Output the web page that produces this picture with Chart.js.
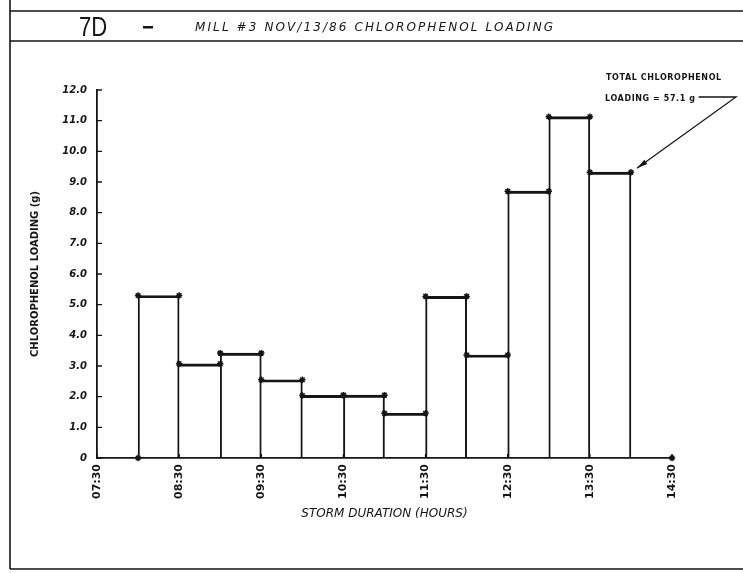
<!DOCTYPE html>
<html>
<head>
<meta charset="utf-8">
<title>Mill #3 chlorophenol loading</title>
<script src="https://cdn.jsdelivr.net/npm/chart.js@4/dist/chart.umd.min.js"></script>
<style>
  html, body { margin: 0; padding: 0; background: #fff; }
  #wrap { width: 743px; height: 573px; position: relative; }
</style>
</head>
<body>
<div id="wrap"><canvas id="c"></canvas></div>
<script>
// Figure heading
const figureId = '7D';
const chartTitle = 'MILL #3 NOV/13/86 CHLOROPHENOL LOADING';

// Half-hour sampling intervals (start time, decimal hours) and loading per interval (g)
const binStartHours = [8.0, 8.5, 9.0, 9.5, 10.0, 10.5, 11.0, 11.5, 12.0, 12.5, 13.0, 13.5];
const binWidthHours = 0.5;
const loadingGrams  = [5.30, 3.07, 3.42, 2.55, 2.04, 2.05, 1.46, 5.27, 3.36, 8.70, 11.13, 9.32];

// Reported total for the storm event (g)
const totalNote = ['TOTAL CHLOROPHENOL', 'LOADING = 57.1 g'];

// Axis range and tick labels
const xRangeHours = [7.5, 14.5];
const xTickLabels = ['07:30', '08:30', '09:30', '10:30', '11:30', '12:30', '13:30', '14:30'];
const yTickLabels = ['0', '1.0', '2.0', '3.0', '4.0', '5.0', '6.0', '7.0', '8.0', '9.0', '10.0', '11.0', '12.0'];

const INK = '#151515';
const lastIndex = loadingGrams.length - 1;

// Bars centred on each interval
const barPoints = binStartHours.map((s, i) => ({ x: s + binWidthHours / 2, y: loadingGrams[i] }));

// Plotter marks at each corner of the step outline, plus start and end of the trace on the axis
const cornerPoints = [{ x: binStartHours[0], y: 0 }];
binStartHours.forEach((s, i) => {
  cornerPoints.push({ x: s, y: loadingGrams[i] });
  cornerPoints.push({ x: s + binWidthHours, y: loadingGrams[i] });
});
cornerPoints.push({ x: xRangeHours[1], y: 0 });

// Each shared edge is stroked once, by the taller of the two neighbouring bars
const EDGE = 1.3;
function barBorder(ctx) {
  const i = ctx.dataIndex;
  if (i === undefined) return EDGE;
  const v = loadingGrams[i];
  const left = (i === 0 || v >= loadingGrams[i - 1]) ? EDGE : 0;
  const right = (i === lastIndex || v > loadingGrams[i + 1]) ? EDGE : 0;
  return { top: 2.2, left, right, bottom: 0 };
}

// Page frame, heading band, inward ticks and the total annotation
const sheetPlugin = {
  id: 'sheet',
  beforeDraw(chart) {
    const ctx = chart.ctx;
    ctx.save();
    ctx.fillStyle = '#fff';
    ctx.fillRect(0, 0, chart.width, chart.height);
    ctx.strokeStyle = INK;
    ctx.lineWidth = 1.6;
    ctx.beginPath();
    ctx.moveTo(10, 0); ctx.lineTo(10, 569);
    ctx.moveTo(10, 11); ctx.lineTo(743, 11);
    ctx.moveTo(10, 41); ctx.lineTo(743, 41);
    ctx.moveTo(10, 569); ctx.lineTo(743, 569);
    ctx.stroke();

    // figure number and dash
    ctx.fillStyle = INK;
    ctx.save();
    ctx.translate(79, 36);
    ctx.scale(0.82, 1);
    ctx.font = '27px "Liberation Sans", Arial, sans-serif';
    ctx.textBaseline = 'alphabetic';
    ctx.fillText(figureId, 0, 0);
    ctx.restore();
    ctx.fillRect(143, 26, 10, 2.5);

    // heading text
    ctx.font = 'italic 12px "DejaVu Sans", sans-serif';
    ctx.letterSpacing = '2.1px';
    ctx.textBaseline = 'alphabetic';
    ctx.fillText(chartTitle, 195, 31);
    ctx.restore();
  },
  afterDraw(chart) {
    const ctx = chart.ctx;
    const xs = chart.scales.x, ys = chart.scales.y;
    ctx.save();
    ctx.strokeStyle = INK;
    ctx.fillStyle = INK;

    // inward tick marks
    ctx.lineWidth = 1.4;
    ctx.beginPath();
    ys.ticks.forEach(t => {
      const y = ys.getPixelForValue(t.value);
      ctx.moveTo(xs.left, y); ctx.lineTo(xs.left + 5, y);
    });
    xs.ticks.forEach(t => {
      const x = xs.getPixelForValue(t.value);
      ctx.moveTo(x, ys.bottom); ctx.lineTo(x, ys.bottom - 4);
    });
    ctx.stroke();

    // total loading note with leader arrow
    ctx.font = 'bold 8px "DejaVu Sans", sans-serif';
    ctx.letterSpacing = '0.6px';
    ctx.textBaseline = 'alphabetic';
    ctx.fillText(totalNote[0], 606, 80);
    ctx.fillText(totalNote[1], 605, 101);
    const noteEnd = 605 + ctx.measureText(totalNote[1]).width + 3;

    const tipX = xs.getPixelForValue(binStartHours[lastIndex] + binWidthHours) + 6;
    const tipY = ys.getPixelForValue(loadingGrams[lastIndex]) - 4;
    const elbowX = 736, elbowY = 97;
    ctx.lineWidth = 1.3;
    ctx.beginPath();
    ctx.moveTo(noteEnd, elbowY);
    ctx.lineTo(elbowX, elbowY);
    ctx.lineTo(tipX, tipY);
    ctx.stroke();
    const ang = Math.atan2(tipY - elbowY, tipX - elbowX);
    const len = 11, half = 2.6;
    ctx.beginPath();
    ctx.moveTo(tipX, tipY);
    ctx.lineTo(tipX - len * Math.cos(ang) + half * Math.sin(ang), tipY - len * Math.sin(ang) - half * Math.cos(ang));
    ctx.lineTo(tipX - len * Math.cos(ang) - half * Math.sin(ang), tipY - len * Math.sin(ang) + half * Math.cos(ang));
    ctx.closePath();
    ctx.fill();
    ctx.restore();
  }
};

new Chart(document.getElementById('c'), {
  type: 'bar',
  data: {
    datasets: [
      {
        type: 'bar',
        data: barPoints,
        backgroundColor: 'rgba(0,0,0,0)',
        borderColor: INK,
        borderWidth: barBorder,
        borderSkipped: 'start',
        barPercentage: 1,
        categoryPercentage: 1,
        order: 2
      },
      {
        type: 'line',
        data: cornerPoints,
        showLine: false,
        pointStyle: 'star',
        pointRadius: 3.2,
        pointBorderWidth: 1.5,
        pointBorderColor: INK,
        pointBackgroundColor: INK,
        clip: false,
        order: 1
      }
    ]
  },
  options: {
    responsive: true,
    maintainAspectRatio: false,
    animation: false,
    devicePixelRatio: 1,
    layout: { padding: { left: 20, right: 71, top: 90, bottom: 45 } },
    plugins: {
      legend: { display: false },
      tooltip: { enabled: false },
      title: { display: false }
    },
    scales: {
      x: {
        type: 'linear',
        min: xRangeHours[0],
        max: xRangeHours[1],
        offset: false,
        grid: { display: false, drawTicks: false },
        border: { display: true, color: INK, width: 1.8 },
        ticks: {
          stepSize: 1,
          autoSkip: false,
          minRotation: 90,
          maxRotation: 90,
          padding: 6,
          color: INK,
          font: { family: '"DejaVu Sans", sans-serif', size: 11, weight: 'bold' },
          callback: (v, i) => xTickLabels[i]
        },
        title: {
          display: true,
          text: 'STORM DURATION (HOURS)',
          color: INK,
          font: { family: '"DejaVu Sans", sans-serif', size: 12, style: 'italic' },
          padding: { top: 0, bottom: 7 }
        },
        afterFit: s => { s.height = 70; }
      },
      y: {
        min: 0,
        max: 12,
        grid: { display: false, drawTicks: false },
        border: { display: true, color: INK, width: 1.8 },
        ticks: {
          stepSize: 1,
          padding: 10,
          color: INK,
          font: { family: '"DejaVu Sans", sans-serif', size: 10, weight: 'bold', style: 'italic' },
          callback: (v, i) => yTickLabels[i]
        },
        title: {
          display: true,
          text: 'CHLOROPHENOL LOADING (g)',
          color: INK,
          font: { family: '"DejaVu Sans", sans-serif', size: 10, weight: 'bold' },
          padding: { top: 9, bottom: 0 }
        },
        afterFit: s => { s.width = 77; }
      }
    }
  },
  plugins: [sheetPlugin]
});
</script>
</body>
</html>
